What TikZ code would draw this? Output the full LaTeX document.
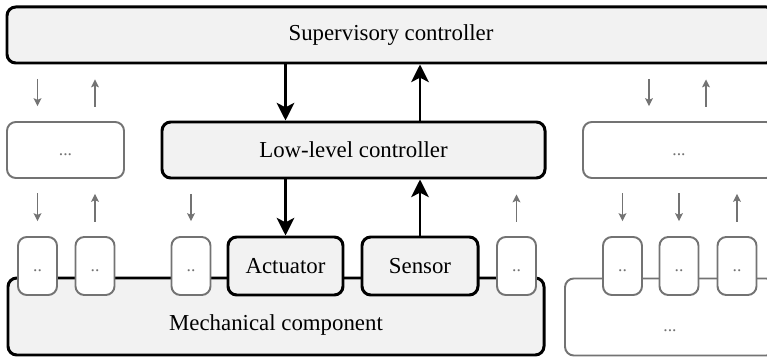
\documentclass[tikz,border=0pt]{standalone}
\usepackage{fontspec}
\setmainfont{Liberation Serif}
\newfontfamily\tnr{Liberation Serif}
\usepackage{tikz}
\usetikzlibrary{arrows.meta}

\tikzset{
  dim/.style 2 args={minimum width=#1*0.02cm, minimum height=#2*0.02cm, inner sep=0pt},
  blk/.style={draw, line width=1.7pt, rounded corners=5pt, fill=black!5},
  gry/.style={draw=black!55, line width=1.1pt, rounded corners=5pt, fill=white},
  gtxt/.style={text=black!55, font=\tnr\fontsize{10}{12}\selectfont, text height=1.5ex, text depth=.25ex},
  pin/.style={gry, gtxt, dim={39}{58}},
  bus/.style={line width=1.7pt, -{Stealth[length=10pt,width=10pt,inset=2.5pt]}},
  sig/.style={color=black!55, line width=0.6pt, -{Stealth[length=4.5pt,width=4.5pt,inset=1pt]},
    shorten <=0.29cm, shorten >=0.3cm}
}

\begin{document}
\begin{tikzpicture}[x=0.02cm, y=-0.02cm, font=\tnr\fontsize{13}{15}\selectfont]
\useasboundingbox (0,0) rectangle (767,357);
\clip (0,0) rectangle (767,357);

% controllers
\node[blk, dim={768}{56}] (sup) at (391,35) {Supervisory controller};
\node[blk, dim={383}{56}] (low) at (353.5,150) {Low-level controller};
\node[gry, gtxt, dim={117}{56}] (lgrey) at (65.5,150) {...};
\node[gry, gtxt, dim={192}{56}] (rgrey) at (679,150) {...};

% mechanical parts
\node[blk, dim={536}{77}, label={[yshift=-0.18cm]center:Mechanical component}] (mech) at (276,316.5) {};
\node[gry, dim={210}{77}, label={[gtxt, yshift=-0.18cm]center:...}] (rmech) at (670,317) {};

\node[pin] (p1) at (37.5,266) {..};
\node[pin] (p2) at (95,266) {..};
\node[pin] (p3) at (191,266) {..};
\node[blk, dim={115}{58}] (act) at (285.5,266) {Actuator};
\node[blk, dim={116}{58}] (sen) at (420,266) {Sensor};
\node[pin] (p4) at (516.5,266) {..};
\node[pin] (p5) at (622.5,266) {..};
\node[pin] (p6) at (679,266) {..};
\node[pin] (p7) at (737,266) {..};

\coordinate (q1) at (649,0);
\coordinate (q2) at (706,0);

% main loop
\draw[bus] (sup.south -| act.north) -- (low.north -| act.north);
\draw[bus] (low.south -| act.north) -- (act.north);
\draw[bus] (sen.north) -- (low.south -| sen.north);
\draw[bus] (low.north -| sen.north) -- (sup.south -| sen.north);

% other signals
\draw[sig] (sup.south -| p1) -- (lgrey.north -| p1);
\draw[sig] (lgrey.north -| p2) -- (sup.south -| p2);
\draw[sig] (sup.south -| q1) -- (rgrey.north -| q1);
\draw[sig] (rgrey.north -| q2) -- (sup.south -| q2);
\draw[sig] (lgrey.south -| p1) -- (p1.north);
\draw[sig] (p2.north) -- (lgrey.south -| p2);
\draw[sig] (low.south -| p3) -- (p3.north);
\draw[sig] (p4.north) -- (low.south -| p4);
\draw[sig] (rgrey.south -| p5) -- (p5.north);
\draw[sig] (rgrey.south -| p6) -- (p6.north);
\draw[sig] (p7.north) -- (rgrey.south -| p7);
\end{tikzpicture}
\end{document}
